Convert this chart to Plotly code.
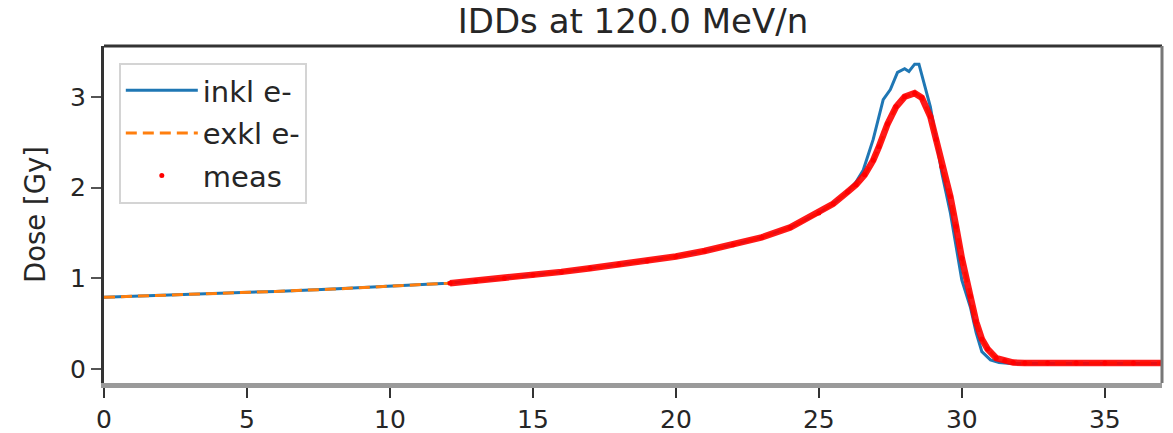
import plotly.graph_objects as go

# depth [mm] and dose [Gy]
x_inkl = [0, 2, 4, 6, 8, 10, 12, 14, 16, 18, 20, 21, 22, 23, 24, 25, 25.5, 26, 26.3,
          26.55, 26.9, 27.25, 27.5, 27.75, 28.0, 28.15, 28.35, 28.5, 28.65, 28.9, 29.1,
          29.3, 29.6, 29.8, 30.0, 30.3, 30.5, 30.7, 31.0, 31.3, 31.7, 37]
y_inkl = [0.79, 0.81, 0.83, 0.855, 0.88, 0.91, 0.945, 1.0, 1.07, 1.15, 1.24, 1.30, 1.37,
          1.45, 1.56, 1.72, 1.82, 1.95, 2.06, 2.19, 2.53, 2.97, 3.08, 3.27, 3.31, 3.28,
          3.36, 3.36, 3.18, 2.89, 2.53, 2.16, 1.72, 1.35, 0.98, 0.68, 0.40, 0.19, 0.10,
          0.07, 0.06, 0.06]

x_exkl = [0, 2, 4, 6, 8, 10, 12, 14, 16, 18, 20, 21, 22, 23, 24, 25, 25.5, 26, 26.3,
          26.6, 26.9, 27.1, 27.4, 27.7, 28.0, 28.35, 28.6, 28.9, 29.1, 29.3, 29.6, 29.8,
          30.0, 30.3, 30.5, 30.7, 30.9, 31.2, 31.5, 31.8, 32.2, 37]
y_exkl = [0.79, 0.81, 0.83, 0.855, 0.88, 0.91, 0.945, 1.0, 1.07, 1.15, 1.24, 1.30, 1.37,
          1.45, 1.56, 1.72, 1.82, 1.95, 2.03, 2.14, 2.30, 2.45, 2.70, 2.89, 3.00, 3.04,
          2.99, 2.78, 2.53, 2.23, 1.90, 1.57, 1.22, 0.80, 0.52, 0.33, 0.22, 0.12, 0.09,
          0.07, 0.065, 0.065]

x_meas = [12.1, 13, 14, 15, 16, 17, 18, 19, 20, 21, 22, 23, 24, 25, 25.5, 26, 26.3, 26.6,
          26.9, 27.1, 27.4, 27.7, 28.0, 28.35, 28.6, 28.9, 29.1, 29.3, 29.6, 29.8, 30.0,
          30.3, 30.5, 30.7, 30.9, 31.2, 31.5, 31.8, 32.2, 33, 34, 35, 36, 37]
y_meas = [0.945, 0.97, 1.0, 1.035, 1.07, 1.11, 1.15, 1.19, 1.24, 1.30, 1.37, 1.45, 1.56,
          1.72, 1.82, 1.95, 2.03, 2.14, 2.30, 2.45, 2.70, 2.89, 3.00, 3.04, 2.99, 2.78,
          2.53, 2.23, 1.90, 1.57, 1.22, 0.80, 0.52, 0.33, 0.22, 0.12, 0.09, 0.07, 0.065,
          0.065, 0.065, 0.065, 0.065, 0.065]

x_ticks = [0, 5, 10, 15, 20, 25, 30, 35]
y_ticks = [0, 1, 2, 3]

fig = go.Figure()
fig.add_trace(go.Scatter(x=x_inkl, y=y_inkl, mode="lines", name="inkl e-", legendgroup="a",
                         line=dict(color="#1f77b4", width=3)))
fig.add_trace(go.Scatter(x=x_exkl, y=y_exkl, mode="lines", name="exkl e-", legendgroup="b",
                         line=dict(color="#ff7f0e", width=3, dash="11px,6px")))
fig.add_trace(go.Scatter(x=x_meas, y=y_meas, mode="lines", showlegend=False, legendgroup="c",
                         line=dict(color="rgba(255,0,0,0.9)", width=6.5), hoverinfo="skip"))
fig.add_trace(go.Scatter(x=x_meas, y=y_meas, mode="markers", name="meas", legendgroup="c",
                         marker=dict(color="#ff0000", size=5)))

fig.update_layout(
    width=1173, height=433,
    margin=dict(l=104, r=11, t=46, b=50),
    plot_bgcolor="white", paper_bgcolor="white",
    font=dict(family="DejaVu Sans", size=25, color="#262626"),
    title=dict(text="IDDs at 120.0 MeV/n", x=0.5, xref="paper", xanchor="center",
               y=0.952, yref="container", yanchor="middle",
               font=dict(size=34, color="#262626")),
    legend=dict(x=0.014, y=0.95, xanchor="left", yanchor="top",
                bordercolor="#d4d4d4", borderwidth=2, bgcolor="white",
                font=dict(size=29), itemwidth=72, tracegroupgap=2),
    showlegend=True,
)
fig.update_xaxes(range=[0, 37], tickvals=x_ticks, ticks="outside", ticklen=10, tickwidth=2,
                 tickcolor="#333", showline=True, linecolor="#9a9a9a", linewidth=5,
                 showgrid=False, zeroline=False, automargin=False,
                 tickfont=dict(size=25), ticklabelstandoff=0)
fig.update_yaxes(range=[-0.155, 3.56], tickvals=y_ticks, ticks="outside", ticklen=10,
                 tickwidth=2, tickcolor="#555", showline=True, linecolor="#333",
                 linewidth=3, showgrid=False, zeroline=False, automargin=False,
                 tickfont=dict(size=25),
                 title=dict(text="Dose [Gy]", standoff=17, font=dict(size=27.5)))
fig.add_shape(type="line", xref="paper", yref="paper", x0=0, x1=1, y0=1, y1=1,
              line=dict(color="#333", width=3))
fig.add_shape(type="line", xref="paper", yref="paper", x0=1, x1=1, y0=0, y1=1,
              line=dict(color="#777", width=3))

fig.write_html("out.html", config={"displayModeBar": False},
               post_script="document.body.style.margin='0px';")
